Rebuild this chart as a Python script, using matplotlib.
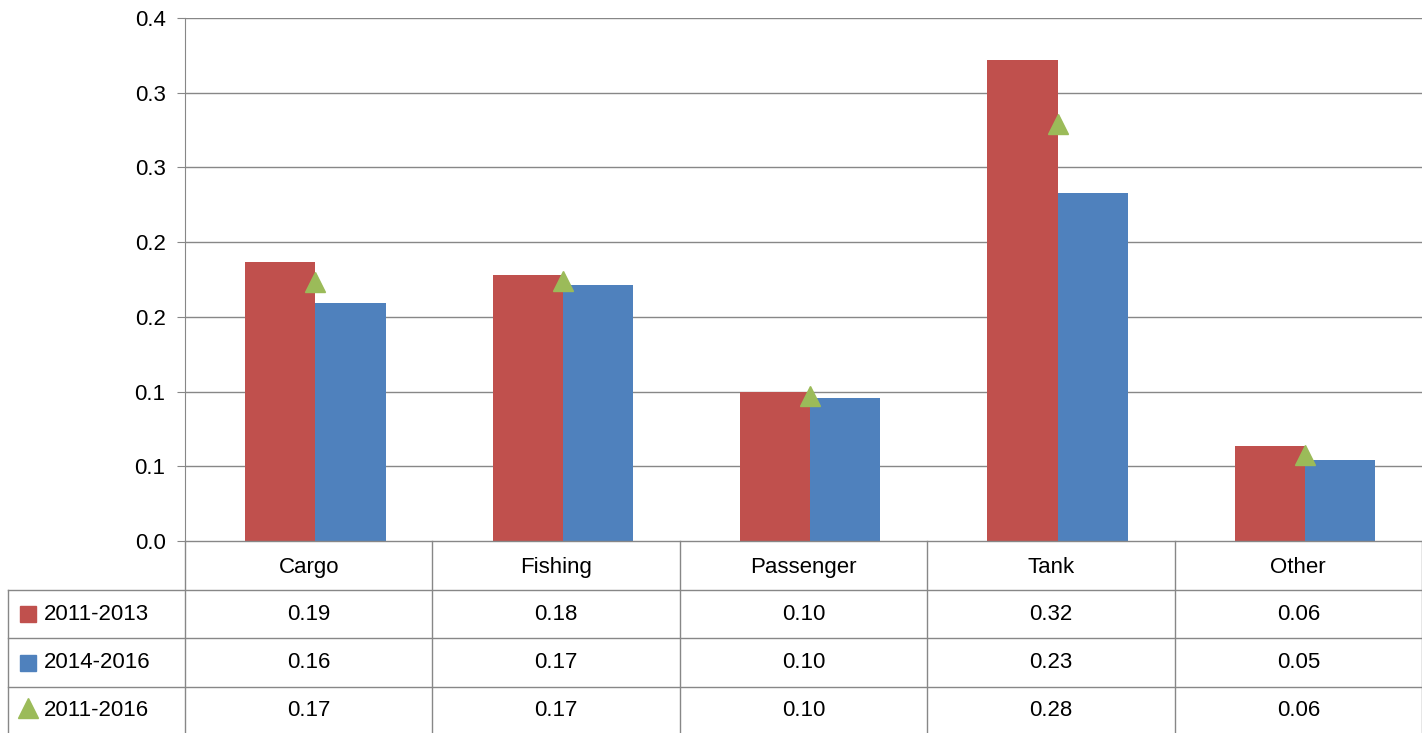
import matplotlib
matplotlib.use("Agg")
import matplotlib.pyplot as plt
from matplotlib.patches import Rectangle
from matplotlib.lines import Line2D
from decimal import Decimal, ROUND_HALF_UP

categories = ["Cargo", "Fishing", "Passenger", "Tank", "Other"]
series_names = ["2011-2013", "2014-2016", "2011-2016"]
vals_1113 = [0.187, 0.178, 0.0997, 0.322, 0.0636]
vals_1416 = [0.159, 0.171, 0.096, 0.233, 0.054]
vals_1116 = [0.173, 0.174, 0.097, 0.279, 0.0576]
ytick_vals = [0, 0.05, 0.1, 0.15, 0.2, 0.25, 0.3, 0.35]

red = "#C0504D"
blue = "#4F81BD"
green = "#9BBB59"
grid = "#878787"


def excel_fmt(v, places):
    q = Decimal(1).scaleb(-places)
    return str(Decimal(str(v)).quantize(q, rounding=ROUND_HALF_UP))


W, H = 1422, 733
fig = plt.figure(figsize=(W / 100, H / 100), dpi=100)
plt.rcParams["font.family"] = ["Liberation Sans", "DejaVu Sans"]
fs = 16

x0, x1, ytop, ybot = 185, 1422, 18, 541
ax = fig.add_axes([x0 / W, 1 - ybot / H, (x1 - x0) / W, (ybot - ytop) / H])
n = len(categories)
centers = [i + 0.527 for i in range(n)]
bw = 0.284
ax.bar([c - bw / 2 for c in centers], vals_1113, bw, color=red, zorder=3)
ax.bar([c + bw / 2 for c in centers], vals_1416, bw, color=blue, zorder=3)
ax.plot(centers, vals_1116, "^", color=green, markersize=15, zorder=4, linestyle="none")
ax.set_xlim(0, n)
ax.set_ylim(0, 0.35)
ax.set_yticks(ytick_vals)
ax.set_yticklabels([excel_fmt(v, 1) for v in ytick_vals], fontsize=fs)
ax.set_xticks([])
for v in ytick_vals[1:]:
    ax.axhline(v, color=grid, lw=1, zorder=1)
for s in ["top", "right", "bottom"]:
    ax.spines[s].set_visible(False)
ax.spines["left"].set_color(grid)
ax.tick_params(axis="y", length=6, color=grid, pad=8)

# data table
tab = fig.add_axes([0, 0, 1, 1])
tab.set_xlim(0, W)
tab.set_ylim(H, 0)
tab.axis("off")
rows = [541, 590, 638, 687, 733]
lx = 8
colw = (x1 - x0) / n
for y in rows[1:-1]:
    tab.add_line(Line2D([lx, x1], [y, y], color=grid, lw=1))
tab.add_line(Line2D([x0, x1], [rows[0], rows[0]], color=grid, lw=1))
tab.add_line(Line2D([lx, lx], [rows[1], H], color=grid, lw=1))
for i in range(n + 1):
    x = x0 + i * colw
    tab.add_line(Line2D([x, x], [rows[0], H], color=grid, lw=1))
for i, c in enumerate(categories):
    tab.text(x0 + (i + 0.5) * colw, (rows[0] + rows[1]) / 2 + 2, c, ha="center", va="center", fontsize=fs)
table_vals = [vals_1113, vals_1416, vals_1116]
for r, (name, vals) in enumerate(zip(series_names, table_vals)):
    yc = (rows[r + 1] + rows[r + 2]) / 2
    if r < 2:
        tab.add_patch(Rectangle((20, yc - 8), 16, 16, color=[red, blue][r]))
    else:
        tab.plot([28], [yc - 2], "^", color=green, markersize=14)
    tab.text(44, yc, name, ha="left", va="center", fontsize=fs)
    for i, v in enumerate(vals):
        tab.text(x0 + (i + 0.5) * colw, yc, excel_fmt(v, 2), ha="center", va="center", fontsize=fs)

fig.savefig("out.png", dpi=100)
